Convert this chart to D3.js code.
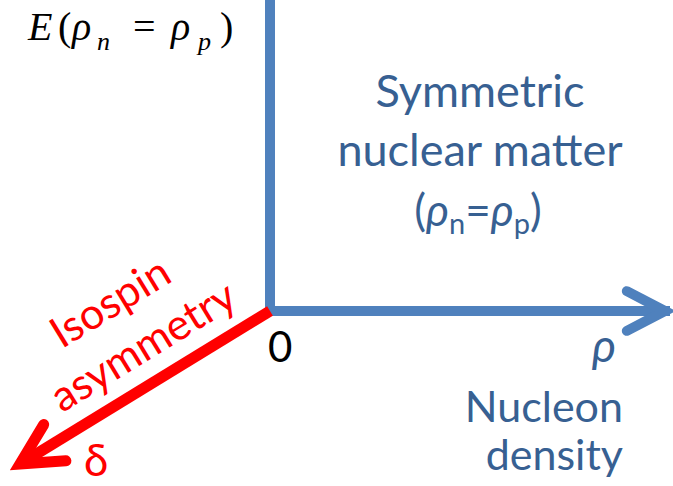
<!DOCTYPE html>
<html>
<head>
<meta charset="utf-8">
<script src="https://cdn.jsdelivr.net/npm/d3@7"></script>
<style>
  body { margin: 0; background: #fff; }
  svg text { font-family: Lato, "Open Sans", sans-serif; }
</style>
</head>
<body>
<div id="chart"></div>
<script>
const width = 673;
const height = 486;

// Axes of the diagram (unit vectors in data space: rho, E, delta)
const axisNames = ["rho", "E", "delta"];
const axisEnds = [[1, 0, 0], [0, 1, 0], [0, 0, 1]];
const axisColors = ["#4f81bd", "#4f81bd", "#ff0000"];
const axisArrow = [true, false, true];

// Text labels
const blueLabel = ["Symmetric", "nuclear matter"];
const densityLabel = ["Nucleon", "density"];
const deltaLabel = ["Isospin", "asymmetry"];

// Scales
const x = d3.scaleLinear().domain([0, 1]).range([270, 665]);
const y = d3.scaleLinear().domain([0, 1]).range([311, -10]);
// oblique projection for the delta axis
const dx = d3.scaleLinear().domain([0, 1]).range([0, -250]);
const dy = d3.scaleLinear().domain([0, 1]).range([0, 153]);

function project(p) {
    return [x(p[0]) + dx(p[2]), y(p[1]) + dy(p[2])];
}

const svg = d3.select("#chart").append("svg")
    .attr("width", width)
    .attr("height", height);

// Draw axes
axisEnds.forEach(function (end, i) {
    const a = project([0, 0, 0]);
    const b = project(end);
    svg.append("line")
        .attr("x1", a[0]).attr("y1", a[1])
        .attr("x2", b[0]).attr("y2", b[1])
        .attr("stroke", axisColors[i])
        .attr("stroke-width", i == 2 ? 11 : 10)
        .attr("stroke-linecap", i == 2 ? "butt" : "square");

    if (axisArrow[i]) {
        const ang = Math.atan2(b[1] - a[1], b[0] - a[0]);
        const len = i == 2 ? 46 : 43, spread = 0.48;
        const p1 = [b[0] - len * Math.cos(ang - spread), b[1] - len * Math.sin(ang - spread)];
        const p2 = [b[0] - len * Math.cos(ang + spread), b[1] - len * Math.sin(ang + spread)];
        svg.append("path")
            .attr("d", d3.line()([p1, b, p2]))
            .attr("fill", "none")
            .attr("stroke", axisColors[i])
            .attr("stroke-width", i == 2 ? 11 : 10)
            .attr("stroke-linecap", "round")
            .attr("stroke-linejoin", "miter");
    }
});

// E(rho_n = rho_p) label, spaced like an equation editor would
const eParts = [
    {t: "E", x: 28, size: 40, dy: 0},
    {t: "(", x: 58, size: 40, dy: 0, upright: true},
    {t: "ρ", x: 72, size: 40, dy: 0},
    {t: "n", x: 97, size: 26, dy: 10},
    {t: "=", x: 133, size: 40, dy: 0, upright: true},
    {t: "ρ", x: 171, size: 40, dy: 0},
    {t: "p", x: 198, size: 26, dy: 10},
    {t: ")", x: 220, size: 40, dy: 0, upright: true}
];
svg.selectAll(".eq")
    .data(eParts)
    .enter()
    .append("text")
    .attr("class", "eq")
    .attr("x", function (d) { return d.x; })
    .attr("y", function (d) { return 40 + d.dy; })
    .style("font-family", "'Liberation Serif', 'DejaVu Serif', serif")
    .style("font-style", function (d) { return d.upright ? "normal" : "italic"; })
    .attr("font-size", function (d) { return d.size; })
    .attr("fill", "#000")
    .text(function (d) { return d.t; });

// Symmetric nuclear matter
svg.selectAll(".sym")
    .data(blueLabel)
    .enter()
    .append("text")
    .attr("class", "sym")
    .attr("x", 480)
    .attr("y", function (d, i) { return 107 + i * 59; })
    .attr("text-anchor", "middle")
    .attr("font-size", 45)
    .attr("fill", "#376092")
    .text(function (d) { return d; });

const rhoLine = svg.append("text")
    .attr("x", 478).attr("y", 226)
    .attr("text-anchor", "middle")
    .attr("font-size", 44)
    .attr("fill", "#376092");
rhoLine.append("tspan").text("(");
rhoLine.append("tspan").style("font-style", "italic").text("ρ");
rhoLine.append("tspan").attr("font-size", 29).attr("dy", 8).text("n");
rhoLine.append("tspan").attr("dy", -8).text("=");
rhoLine.append("tspan").style("font-style", "italic").text("ρ");
rhoLine.append("tspan").attr("font-size", 29).attr("dy", 8).text("p");
rhoLine.append("tspan").attr("dy", -8).text(")");

// origin
svg.append("text")
    .attr("x", 268).attr("y", 362)
    .attr("font-size", 42)
    .attr("fill", "#000")
    .text("0");

// rho axis label
svg.append("text")
    .attr("x", 604).attr("y", 362)
    .attr("text-anchor", "middle")
    .attr("font-size", 46)
    .style("font-style", "italic")
    .attr("fill", "#376092")
    .text("ρ");

svg.selectAll(".dens")
    .data(densityLabel)
    .enter()
    .append("text")
    .attr("class", "dens")
    .attr("x", 623)
    .attr("y", function (d, i) { return 422 + i * 48; })
    .attr("text-anchor", "end")
    .attr("font-size", 43)
    .attr("fill", "#376092")
    .text(function (d) { return d; });

// delta axis labels
const o = project([0, 0, 0]), e = project([0, 0, 1]);
const rot = Math.atan2(o[1] - e[1], o[0] - e[0]) * 180 / Math.PI;
const deltaPos = [[110, 302], [143, 346]];
svg.selectAll(".iso")
    .data(deltaLabel)
    .enter()
    .append("text")
    .attr("class", "iso")
    .attr("transform", function (d, i) {
        return "translate(" + deltaPos[i][0] + "," + deltaPos[i][1] + ") rotate(" + rot + ")";
    })
    .attr("text-anchor", "middle")
    .attr("dy", "0.35em")
    .attr("font-size", 43)
    .attr("fill", "#ff0000")
    .text(function (d) { return d; });

svg.append("text")
    .attr("x", 96).attr("y", 476)
    .attr("text-anchor", "middle")
    .attr("font-size", 44)
    .attr("fill", "#ff0000")
    .text("δ");
</script>
</body>
</html>
